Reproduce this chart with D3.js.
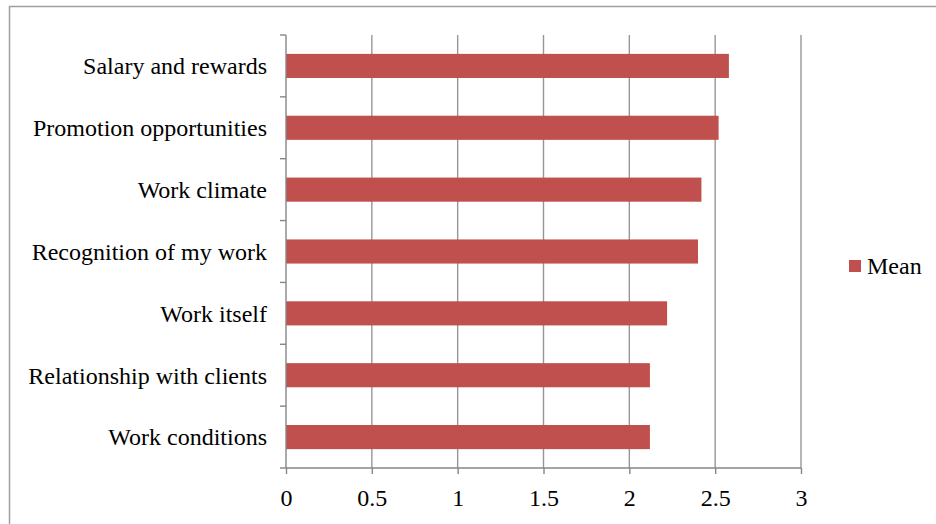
<!DOCTYPE html>
<html lang="en">
<head>
<meta charset="utf-8">
<title>Mean scores</title>
<script src="https://cdn.jsdelivr.net/npm/d3@7"></script>
<style>
  body { margin: 0; background: white; }
  svg { display: block; }
  text { font-family: "Liberation Serif", "Times New Roman", serif; fill: #000; }
</style>
</head>
<body>
<svg width="936" height="524"></svg>
<script>
// data
var categories = ["Salary and rewards", "Promotion opportunities", "Work climate",
  "Recognition of my work", "Work itself", "Relationship with clients", "Work conditions"];
var means = [2.58, 2.52, 2.42, 2.40, 2.22, 2.12, 2.12];
var xTicks = [0, 0.5, 1, 1.5, 2, 2.5, 3];
var seriesName = "Mean";

var svg = d3.select("svg");
var plotL = 286, plotR = 801, plotT = 35, plotB = 468;
var fs = 24;

// outer frame (cut off at right and bottom, like the source)
svg.append("path")
  .attr("d", "M9.5,530V6.5H940")
  .attr("fill", "none").attr("stroke", "#a0a0a0").attr("stroke-width", 1.5);

var x = d3.scaleLinear().domain([0, 3]).range([plotL, plotR]);
var y = d3.scaleBand().domain(categories).range([plotT, plotB]).paddingInner(0.61).paddingOuter(0.305);
var yb = d3.scaleBand().domain(categories).range([plotT, plotB]);

// vertical gridlines
svg.append("g").selectAll("line")
  .data(xTicks.slice(1))
  .join("line")
  .attr("x1", function(d) { return x(d); })
  .attr("x2", function(d) { return x(d); })
  .attr("y1", plotT).attr("y2", plotB)
  .attr("stroke", "#969696").attr("stroke-width", 1.4);

// bars
svg.append("g").selectAll("rect")
  .data(means)
  .join("rect")
  .attr("x", x(0))
  .attr("y", function(d, i) { return y(categories[i]); })
  .attr("width", function(d) { return x(d) - x(0); })
  .attr("height", y.bandwidth())
  .attr("fill", "#c0504d");

// x axis
var xAxis = svg.append("g")
  .attr("transform", "translate(0," + plotB + ")")
  .call(d3.axisBottom(x).tickValues(xTicks).tickSize(6).tickPadding(15)
    .tickFormat(function(d) { return d; }));
xAxis.selectAll("path, line").attr("stroke", "#868686").attr("stroke-width", 1.4);
xAxis.select(".domain").attr("d", "M" + plotL + ",0H" + plotR);
xAxis.selectAll("text").attr("font-size", fs).attr("font-family", "Liberation Serif").attr("fill", "#000");

// y axis: ticks at band boundaries
var yAxis = svg.append("g").attr("transform", "translate(" + plotL + ",0)");
yAxis.append("line")
  .attr("x1", 0).attr("x2", 0).attr("y1", plotT).attr("y2", plotB)
  .attr("stroke", "#868686").attr("stroke-width", 1.4);
var bounds = categories.map(function(c) { return yb(c); }).concat([plotB]);
yAxis.selectAll("line.tk")
  .data(bounds)
  .join("line")
  .attr("class", "tk")
  .attr("x1", -6).attr("x2", 0)
  .attr("y1", function(d) { return d; }).attr("y2", function(d) { return d; })
  .attr("stroke", "#868686").attr("stroke-width", 1.4);
yAxis.selectAll("text")
  .data(categories)
  .join("text")
  .attr("x", -19)
  .attr("y", function(d) { return yb(d) + yb.bandwidth() / 2; })
  .attr("dy", "0.35em")
  .attr("text-anchor", "end")
  .attr("font-size", fs)
  .text(function(d) { return d; });

// legend
var lg = svg.append("g").attr("transform", "translate(849,260)");
lg.append("rect").attr("width", 12).attr("height", 12).attr("fill", "#c0504d");
lg.append("text").attr("x", 18).attr("y", 6).attr("dy", "0.35em")
  .attr("font-size", fs).text(seriesName);
</script>
</body>
</html>
